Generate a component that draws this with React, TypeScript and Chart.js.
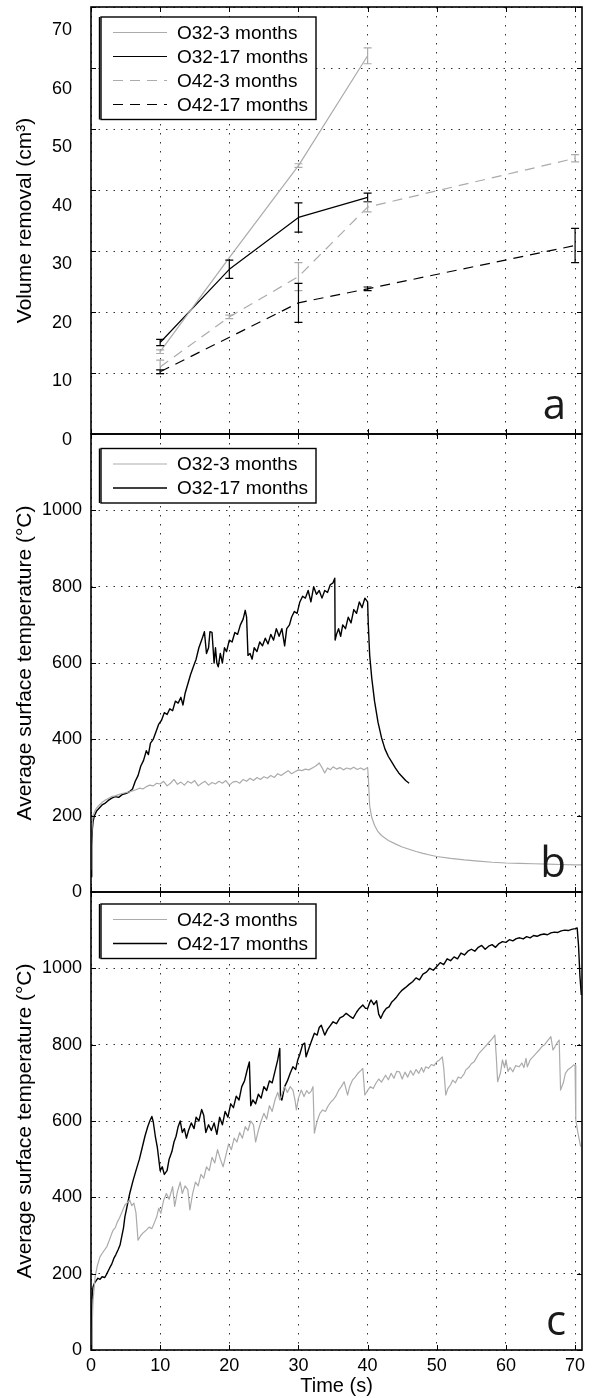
import React, { useEffect, useRef } from "react";
import { Chart, registerables } from "chart.js";

Chart.register(...registerables);

const FONT = "'Liberation Sans', Arial, Helvetica, sans-serif";
const TAG_FONT = "'Open Sans', 'DejaVu Sans', sans-serif";
const GREY = "#ababab";
const BLACK = "#000000";
const GRID = "#333333";

const PAGE_W = 593;
const PAGE_H = 1398;

// ---------- axis ticks ----------
const timeTicks = [0, 10, 20, 30, 40, 50, 60, 70];
const TIME_MAX = 71;
const volumeTicks = [0, 10, 20, 30, 40, 50, 60, 70];
const temperatureTicks = [0, 200, 400, 600, 800, 1000, 1200];

// ---------- panel a: volume removal vs exposure time ----------
const removalTimes = [10, 20, 30, 40, 70];
const o32Month3Volume = [13.5, 28.9, 44, 62, null];
const o32Month3Error = [0.3, 0, 0.3, 1.3, null];
const o32Month17Volume = [15, 27, 35.5, 38.8, null];
const o32Month17Error = [0.5, 1.5, 2.4, 0.7, null];
const o42Month3Volume = [11, 19.2, 25.8, 37.2, 45.2];
const o42Month3Error = [1.1, 0.3, 2.3, 0.8, 0.6];
const o42Month17Volume = [10.2, null, 21.5, 23.8, 30.9];
const o42Month17Error = [0.3, null, 3.2, 0.3, 2.8];

// ---------- panel b: O32 surface temperature traces [time s, °C] ----------
const o32Month3Trace = [
  [0, 60], [0.1, 150], [0.2, 185], [0.3, 200], [0.5, 210], [0.8, 220], [1.2, 228], [1.6, 235], [2, 240], [2.5, 245],
  [3, 250], [3.5, 252], [4, 255], [4.5, 258], [5, 260], [5.5, 262], [6, 265], [6.5, 268], [7, 272], [7.5, 270],
  [8, 276], [8.5, 280], [9, 278], [9.5, 285], [10, 283], [10.5, 290], [11, 278], [11.5, 285], [12, 295], [12.5, 282],
  [13, 288], [13.5, 280], [14, 290], [14.5, 285], [15, 292], [15.5, 278], [16, 285], [16.5, 290], [17, 280], [17.5, 287],
  [18, 283], [18.5, 290], [19, 285], [19.5, 292], [20, 280], [20.5, 288], [21, 290], [21.5, 285], [22, 295], [22.5, 290],
  [23, 298], [23.5, 292], [24, 300], [24.5, 295], [25, 302], [25.5, 298], [26, 305], [26.5, 300], [27, 310], [27.5, 305],
  [28, 312], [28.5, 318], [29, 310], [29.5, 315], [30, 320], [30.5, 318], [31, 322], [31.5, 320], [32, 325], [32.5, 330],
  [33, 338], [33.4, 326], [33.8, 312], [34.2, 325], [34.6, 320], [35, 328], [35.5, 322], [36, 326], [36.5, 320], [37, 325],
  [37.5, 322], [38, 327], [38.5, 321], [39, 325], [39.5, 320], [40, 326], [40.1, 300], [40.3, 225], [40.6, 195], [41, 175],
  [41.5, 158], [42, 148], [43, 135], [44, 126], [45, 118], [46, 112], [47, 106], [48, 101], [49, 97], [50, 93],
  [52, 88], [54, 84], [56, 81], [58, 78], [60, 76], [62, 75], [64, 74], [66, 73], [68, 72], [70, 71], [71, 71],
];

const o32Month17Trace = [
  [0, 40], [0.1, 120], [0.2, 165], [0.3, 185], [0.5, 200], [0.8, 212], [1.2, 220], [1.6, 228], [2, 232], [2.5, 240],
  [3, 246], [3.5, 250], [4, 248], [4.5, 255], [5, 258], [5.5, 262], [6, 270], [6.4, 290], [6.8, 305], [7.2, 330],
  [7.6, 345], [8, 370], [8.3, 360], [8.6, 390], [9, 400], [9.4, 420], [9.8, 440], [10.2, 450], [10.6, 470], [11, 465],
  [11.4, 480], [11.8, 475], [12.2, 500], [12.6, 495], [13, 510], [13.3, 490], [13.6, 520], [14, 545], [14.4, 570], [14.8, 590],
  [15.2, 610], [15.6, 640], [16, 660], [16.4, 682], [16.7, 625], [17, 640], [17.2, 682], [17.5, 680], [17.8, 600], [18, 640],
  [18.2, 600], [18.4, 590], [18.7, 625], [19, 600], [19.3, 640], [19.6, 630], [20, 660], [20.4, 655], [20.8, 680], [21.2, 675],
  [21.6, 700], [22, 715], [22.3, 738], [22.5, 720], [22.7, 620], [23, 625], [23.3, 610], [23.6, 640], [24, 630], [24.4, 655],
  [24.8, 645], [25.2, 665], [25.6, 650], [26, 675], [26.4, 660], [26.8, 690], [27.2, 670], [27.6, 690], [28, 645], [28.3, 690],
  [28.7, 700], [29, 720], [29.4, 735], [29.8, 730], [30.2, 760], [30.6, 775], [31, 770], [31.4, 790], [31.8, 760], [32.2, 800],
  [32.6, 780], [33, 790], [33.4, 770], [33.8, 790], [34.2, 785], [34.6, 805], [35, 810], [35.25, 822], [35.3, 660], [35.5, 675],
  [35.8, 690], [36.1, 670], [36.4, 700], [36.8, 690], [37.2, 720], [37.6, 705], [38, 740], [38.4, 730], [38.8, 760], [39.2, 745],
  [39.6, 770], [40, 760], [40.1, 700], [40.3, 620], [40.6, 560], [41, 500], [41.5, 445], [42, 405], [42.5, 375], [43, 355],
  [43.5, 340], [44, 325], [44.5, 312], [45, 302], [45.5, 292], [46, 285],
];

// ---------- panel c: O42 surface temperature traces [time s, °C] ----------
const o42Month3Trace = [
  [0, 0], [0.1, 35], [0.3, 130], [0.6, 192], [0.9, 220], [1.3, 244], [1.8, 258], [2.3, 271], [2.7, 290], [3, 305],
  [3.2, 314], [3.5, 320], [3.8, 335], [4.1, 345], [4.5, 362], [4.9, 380], [5.2, 385], [5.6, 393], [5.9, 378], [6.2, 385],
  [6.5, 360], [6.8, 288], [7.2, 300], [7.6, 308], [8, 314], [8.4, 322], [8.8, 318], [9.2, 335], [9.5, 349], [9.8, 372],
  [10.1, 358], [10.5, 392], [10.9, 410], [11.3, 395], [11.8, 428], [12.1, 376], [12.5, 415], [12.9, 440], [13.2, 410], [13.6, 430],
  [14, 420], [14.3, 367], [14.7, 410], [15.1, 440], [15.5, 430], [15.9, 460], [16.3, 450], [16.7, 480], [17.1, 470], [17.5, 505],
  [17.9, 490], [18.3, 525], [18.7, 500], [19.1, 480], [19.5, 510], [19.9, 540], [20.3, 525], [20.7, 555], [21.1, 545], [21.5, 570],
  [21.9, 555], [22.3, 585], [22.7, 575], [23.1, 600], [23.5, 590], [23.8, 545], [24.2, 575], [24.6, 600], [25, 620], [25.4, 605],
  [25.8, 640], [26.2, 625], [26.6, 655], [27, 675], [27.3, 655], [27.6, 670], [28, 690], [28.4, 675], [28.8, 690], [29.2, 681],
  [29.5, 655], [29.7, 629], [30, 660], [30.4, 681], [30.8, 664], [31.2, 680], [31.5, 672], [31.8, 677], [32.1, 690], [32.3, 568],
  [32.7, 600], [33.1, 620], [33.5, 629], [33.9, 625], [34.3, 640], [34.7, 650], [35, 655], [35.4, 665], [35.8, 680], [36.2, 690],
  [36.6, 703], [37.1, 668], [37.4, 690], [37.8, 707], [38.2, 715], [38.6, 725], [39, 732], [39.3, 738], [39.6, 668], [40, 680],
  [40.4, 690], [40.8, 685], [41.2, 699], [41.6, 710], [42, 702], [42.6, 720], [43, 708], [43.4, 725], [43.8, 712], [44.2, 730],
  [44.6, 729], [45, 710], [45.4, 728], [45.8, 715], [46.2, 732], [46.6, 720], [47, 735], [47.4, 725], [47.8, 740], [48.1, 728],
  [48.4, 742], [48.8, 738], [49.2, 748], [49.6, 745], [50, 755], [50.4, 760], [50.8, 768], [51, 740], [51.3, 668], [51.6, 685],
  [52, 695], [52.3, 707], [52.7, 700], [53.1, 715], [53.5, 712], [54, 725], [54.2, 734], [54.6, 740], [55, 750], [55.4, 755],
  [55.8, 768], [56.1, 777], [56.5, 785], [57, 795], [57.5, 805], [58, 815], [58.4, 825], [58.6, 770], [58.8, 703], [59.2, 725],
  [59.5, 760], [59.8, 740], [60, 760], [60.3, 730], [60.6, 740], [61, 729], [61.4, 745], [61.9, 742], [62.3, 752], [62.6, 740],
  [62.9, 764], [63.1, 742], [63.5, 760], [64, 770], [64.4, 778], [64.8, 786], [65.2, 795], [65.6, 800], [66, 810], [66.5, 821],
  [66.8, 786], [67.1, 795], [67.4, 805], [67.7, 812], [67.9, 681], [68.3, 700], [68.6, 725], [69, 735], [69.4, 740], [69.8, 747],
  [70, 745], [70.1, 603], [70.4, 570], [70.8, 533],
];

const o42Month17Trace = [
  [0, 0], [0.1, 100], [0.2, 150], [0.3, 166], [0.5, 175], [0.8, 183], [1, 188], [1.3, 185], [1.6, 192], [2, 190],
  [2.3, 200], [2.7, 215], [3, 225], [3.3, 240], [3.6, 250], [3.9, 262], [4.2, 275], [4.4, 293], [4.7, 320], [4.9, 349],
  [5.2, 375], [5.6, 410], [6.1, 445], [6.5, 470], [7, 500], [7.4, 530], [7.8, 560], [8.2, 585], [8.5, 600], [8.8, 612],
  [9, 598], [9.3, 560], [9.6, 530], [10, 470], [10.3, 480], [10.6, 460], [11, 470], [11.3, 500], [11.7, 520], [12, 545],
  [12.3, 560], [12.6, 585], [12.9, 600], [13.2, 570], [13.5, 580], [13.8, 555], [14.1, 575], [14.5, 595], [14.9, 580], [15.2, 610],
  [15.6, 600], [16, 630], [16.3, 615], [16.6, 570], [17, 590], [17.4, 575], [17.8, 595], [18.2, 565], [18.6, 610], [19, 590],
  [19.4, 625], [19.8, 610], [20.2, 645], [20.6, 635], [21, 665], [21.4, 655], [21.8, 690], [22.2, 705], [22.6, 735], [22.9, 755],
  [23.1, 640], [23.4, 655], [23.8, 645], [24.2, 670], [24.6, 660], [25, 690], [25.4, 680], [25.8, 705], [26.2, 700], [26.6, 730],
  [27, 760], [27.3, 790], [27.4, 660], [27.6, 655], [28, 690], [28.4, 705], [28.8, 725], [29.2, 742], [29.6, 735], [29.9, 760],
  [30.2, 775], [30.6, 800], [30.9, 804], [31.1, 768], [31.5, 790], [31.9, 810], [32.3, 830], [32.7, 825], [33, 845], [33.3, 851],
  [33.8, 825], [34.2, 840], [34.6, 850], [35, 860], [35.5, 855], [36, 870], [36.5, 875], [36.9, 882], [37.4, 875], [37.9, 869],
  [38.4, 885], [38.8, 895], [39.3, 904], [39.7, 895], [40, 895], [40.3, 910], [40.5, 917], [40.9, 905], [41.3, 915], [41.6, 880],
  [41.9, 869], [42.3, 885], [42.7, 895], [43.1, 899], [43.5, 912], [43.8, 917], [44.2, 925], [44.6, 935], [45, 943], [45.5, 950],
  [46, 958], [46.5, 965], [47, 975], [47.5, 970], [48, 985], [48.5, 990], [49, 1000], [49.5, 995], [50, 1005], [50.5, 1015],
  [51, 1010], [51.5, 1025], [52, 1020], [52.5, 1030], [53, 1025], [53.5, 1040], [54, 1035], [54.5, 1045], [55, 1050], [55.5, 1045],
  [56, 1055], [56.5, 1060], [57, 1050], [57.5, 1058], [58, 1062], [58.5, 1055], [59, 1065], [59.5, 1070], [60, 1068], [60.5, 1075],
  [61, 1072], [61.5, 1078], [62, 1080], [62.5, 1077], [63, 1083], [63.5, 1080], [64, 1086], [64.5, 1084], [65, 1088], [65.5, 1090],
  [66, 1088], [66.5, 1093], [67, 1095], [67.5, 1094], [68, 1098], [68.5, 1100], [69, 1099], [69.5, 1102], [70, 1104], [70.3, 1106],
  [70.5, 1060], [70.7, 980], [70.9, 930],
];

// ---------- helpers ----------
const withErrors = (xs, ys, errs) =>
  xs
    .map((x, i) => (ys[i] == null ? null : { x, y: ys[i], err: errs[i] || 0 }))
    .filter(Boolean);

const fromTrace = (trace) => trace.map(([x, y]) => ({ x, y }));

// ---------- plugins ----------
const errorBarPlugin = {
  id: "errorBars",
  afterDatasetsDraw(chart) {
    const { ctx, scales } = chart;
    ctx.save();
    chart.data.datasets.forEach((ds) => {
      if (!ds.showErrors) return;
      ctx.strokeStyle = ds.borderColor;
      ctx.lineWidth = 1.2;
      ctx.setLineDash([]);
      ds.data.forEach((p) => {
        if (!p.err) return;
        const x = scales.x.getPixelForValue(p.x);
        const y1 = scales.y.getPixelForValue(p.y - p.err);
        const y2 = scales.y.getPixelForValue(p.y + p.err);
        ctx.beginPath();
        ctx.moveTo(x, y1);
        ctx.lineTo(x, y2);
        ctx.moveTo(x - 4, y1);
        ctx.lineTo(x + 4, y1);
        ctx.moveTo(x - 4, y2);
        ctx.lineTo(x + 4, y2);
        ctx.stroke();
      });
    });
    ctx.restore();
  },
};

const framePlugin = {
  id: "frame",
  afterDraw(chart) {
    const { ctx, chartArea: a, scales } = chart;
    const tl = 5;
    ctx.save();
    ctx.strokeStyle = BLACK;
    ctx.lineWidth = 1;
    ctx.setLineDash([]);
    ctx.beginPath();
    scales.x.ticks.forEach((t) => {
      const px = Math.round(scales.x.getPixelForValue(t.value)) + 0.5;
      ctx.moveTo(px, a.top);
      ctx.lineTo(px, a.top + tl);
      ctx.moveTo(px, a.bottom);
      ctx.lineTo(px, a.bottom - tl);
    });
    scales.y.ticks.forEach((t) => {
      const py = Math.round(scales.y.getPixelForValue(t.value)) + 0.5;
      ctx.moveTo(a.left, py);
      ctx.lineTo(a.left + tl, py);
      ctx.moveTo(a.right, py);
      ctx.lineTo(a.right - tl, py);
    });
    ctx.stroke();
    ctx.lineWidth = 1.6;
    ctx.strokeRect(a.left, a.top, a.right - a.left, a.bottom - a.top);
    ctx.restore();
  },
};

const boxLegendPlugin = {
  id: "boxLegend",
  afterDraw(chart, _args, opts) {
    if (!opts || !opts.display) return;
    const { ctx, chartArea } = chart;
    const items = chart.data.datasets.filter((d) => d.label);
    const top = chartArea.top + opts.offsetTop;
    const height = opts.rowStart + (items.length - 1) * opts.rowStep + opts.padBottom;
    ctx.save();
    ctx.fillStyle = "#ffffff";
    ctx.fillRect(opts.left, top, opts.right - opts.left, height);
    ctx.strokeStyle = BLACK;
    ctx.lineWidth = 1.4;
    ctx.setLineDash([]);
    ctx.strokeRect(opts.left, top, opts.right - opts.left, height);
    ctx.beginPath();
    ctx.moveTo(opts.left - 1.5, top);
    ctx.lineTo(opts.left - 1.5, top + height);
    ctx.stroke();
    ctx.font = `${opts.fontSize}px ${FONT}`;
    ctx.textAlign = "left";
    ctx.textBaseline = "middle";
    items.forEach((d, i) => {
      const y = top + opts.rowStart + i * opts.rowStep;
      ctx.beginPath();
      ctx.strokeStyle = d.borderColor;
      ctx.lineWidth = d.borderWidth;
      ctx.setLineDash(d.borderDash || []);
      ctx.moveTo(opts.sampleFrom, y);
      ctx.lineTo(opts.sampleTo, y);
      ctx.stroke();
      ctx.setLineDash([]);
      ctx.fillStyle = BLACK;
      ctx.fillText(d.label, opts.textX, y + 1);
    });
    ctx.restore();
  },
};

const panelTagPlugin = {
  id: "panelTag",
  afterDraw(chart, _args, opts) {
    if (!opts || !opts.text) return;
    const { ctx, chartArea } = chart;
    ctx.save();
    ctx.font = `${opts.fontSize}px ${TAG_FONT}`;
    ctx.fillStyle = "#1a1a1a";
    ctx.textAlign = "right";
    ctx.textBaseline = "alphabetic";
    ctx.fillText(opts.text, chartArea.right - opts.inset, chartArea.bottom - opts.inset + 1);
    ctx.restore();
  },
};

// Volume axis labels sit on a slightly compressed ladder beside the ticks.
const volumeLabelPlugin = {
  id: "volumeLabels",
  afterDraw(chart, _args, opts) {
    if (!opts || !opts.display) return;
    const { ctx, scales } = chart;
    ctx.save();
    ctx.font = `18px ${FONT}`;
    ctx.fillStyle = BLACK;
    ctx.textAlign = "right";
    ctx.textBaseline = "middle";
    volumeTicks.forEach((v) => {
      ctx.fillText(String(v), opts.right, scales.y.getPixelForValue(v * opts.squeeze) + opts.shift);
    });
    ctx.restore();
  },
};

// ---------- scale builders ----------
const tickFont = { family: FONT, size: 18 };
const titleFont = { family: FONT, size: 21 };

function timeScale(withLabels) {
  return {
    type: "linear",
    min: 0,
    max: TIME_MAX,
    afterBuildTicks: (s) => {
      s.ticks = timeTicks.map((value) => ({ value }));
    },
    afterFit: (s) => {
      s.height = withLabels ? 48 : 0;
    },
    grid: { color: GRID, lineWidth: 1, drawTicks: false },
    border: { display: false, dash: [1.5, 7.5] },
    ticks: {
      display: withLabels,
      font: tickFont,
      color: BLACK,
      padding: 5,
      autoSkip: false,
      maxRotation: 0,
    },
    title: {
      display: withLabels,
      text: "Time (s)",
      font: { family: FONT, size: 20 },
      color: BLACK,
      padding: { top: 0, bottom: 0 },
    },
  };
}

function valueScale(ticks, max, titleText, showLabels) {
  return {
    type: "linear",
    min: 0,
    max,
    afterBuildTicks: (s) => {
      s.ticks = ticks.map((value) => ({ value }));
    },
    afterFit: (s) => {
      s.width = 91;
    },
    grid: { color: GRID, lineWidth: 1, drawTicks: false },
    border: { display: false, dash: [1.5, 6] },
    ticks: {
      display: showLabels,
      font: tickFont,
      color: BLACK,
      padding: 9,
      autoSkip: false,
      callback: (v) => (v === max ? "" : String(v)),
    },
    title: {
      display: true,
      text: titleText,
      font: titleFont,
      color: BLACK,
      padding: { top: 13, bottom: 0 },
    },
  };
}

const lineStyle = { pointRadius: 0, fill: false, tension: 0, borderJoinStyle: "round" };

function baseOptions(padTop, padBottom, xScaleOpts, yScaleOpts, plugins) {
  return {
    responsive: false,
    animation: false,
    events: [],
    layout: { padding: { top: padTop, bottom: padBottom, left: 0, right: 11 } },
    scales: { x: xScaleOpts, y: yScaleOpts },
    plugins: {
      legend: { display: false },
      tooltip: { enabled: false },
      ...plugins,
    },
  };
}

const legendBox = (offsetTop) => ({
  display: true,
  offsetTop,
  left: 101,
  right: 316,
  rowStart: 15.5,
  rowStep: 24,
  padBottom: 15,
  sampleFrom: 113,
  sampleTo: 167,
  textX: 177,
  fontSize: 19,
});

const tag = (text) => ({ text, fontSize: 42, inset: 16 });

const pluginList = [errorBarPlugin, boxLegendPlugin, framePlugin, panelTagPlugin, volumeLabelPlugin];

function volumeConfig() {
  return {
    type: "line",
    data: {
      datasets: [
        { label: "O32-3 months", data: withErrors(removalTimes, o32Month3Volume, o32Month3Error), borderColor: GREY, borderWidth: 1.2, showErrors: true, ...lineStyle },
        { label: "O32-17 months", data: withErrors(removalTimes, o32Month17Volume, o32Month17Error), borderColor: BLACK, borderWidth: 1.2, showErrors: true, ...lineStyle },
        { label: "O42-3 months", data: withErrors(removalTimes, o42Month3Volume, o42Month3Error), borderColor: GREY, borderWidth: 1.2, borderDash: [10, 7], showErrors: true, ...lineStyle },
        { label: "O42-17 months", data: withErrors(removalTimes, o42Month17Volume, o42Month17Error), borderColor: BLACK, borderWidth: 1.2, borderDash: [10, 7], showErrors: true, ...lineStyle },
      ],
    },
    options: baseOptions(7, PAGE_H - 434, timeScale(false), valueScale(volumeTicks, 70, "Volume removal (cm³)", false), {
      boxLegend: legendBox(10),
      panelTag: tag("a"),
      volumeLabels: { display: true, right: 72, squeeze: 0.96, shift: 6 },
    }),
    plugins: pluginList,
  };
}

function o32Config() {
  return {
    type: "line",
    data: {
      datasets: [
        { label: "O32-3 months", data: fromTrace(o32Month3Trace), borderColor: GREY, borderWidth: 1.2, ...lineStyle },
        { label: "O32-17 months", data: fromTrace(o32Month17Trace), borderColor: BLACK, borderWidth: 1.4, ...lineStyle },
      ],
    },
    options: baseOptions(434, PAGE_H - 892, timeScale(false), valueScale(temperatureTicks, 1200, "Average surface temperature (°C)", true), {
      boxLegend: legendBox(14.5),
      panelTag: tag("b"),
    }),
    plugins: pluginList,
  };
}

function o42Config() {
  return {
    type: "line",
    data: {
      datasets: [
        { label: "O42-3 months", data: fromTrace(o42Month3Trace), borderColor: GREY, borderWidth: 1.2, ...lineStyle },
        { label: "O42-17 months", data: fromTrace(o42Month17Trace), borderColor: BLACK, borderWidth: 1.4, ...lineStyle },
      ],
    },
    options: baseOptions(892, 0, timeScale(true), valueScale(temperatureTicks, 1200, "Average surface temperature (°C)", true), {
      boxLegend: legendBox(12),
      panelTag: tag("c"),
    }),
    plugins: pluginList,
  };
}

function Panel({ build }) {
  const ref = useRef(null);
  useEffect(() => {
    const chart = new Chart(ref.current, build());
    return () => chart.destroy();
  }, [build]);
  return (
    <canvas
      ref={ref}
      width={PAGE_W}
      height={PAGE_H}
      style={{ position: "absolute", left: 0, top: 0, width: PAGE_W, height: PAGE_H }}
    />
  );
}

export default function App() {
  return (
    <div style={{ position: "absolute", left: 0, top: 0, width: PAGE_W, height: PAGE_H, background: "#ffffff", overflow: "hidden" }}>
      <Panel build={volumeConfig} />
      <Panel build={o32Config} />
      <Panel build={o42Config} />
    </div>
  );
}
